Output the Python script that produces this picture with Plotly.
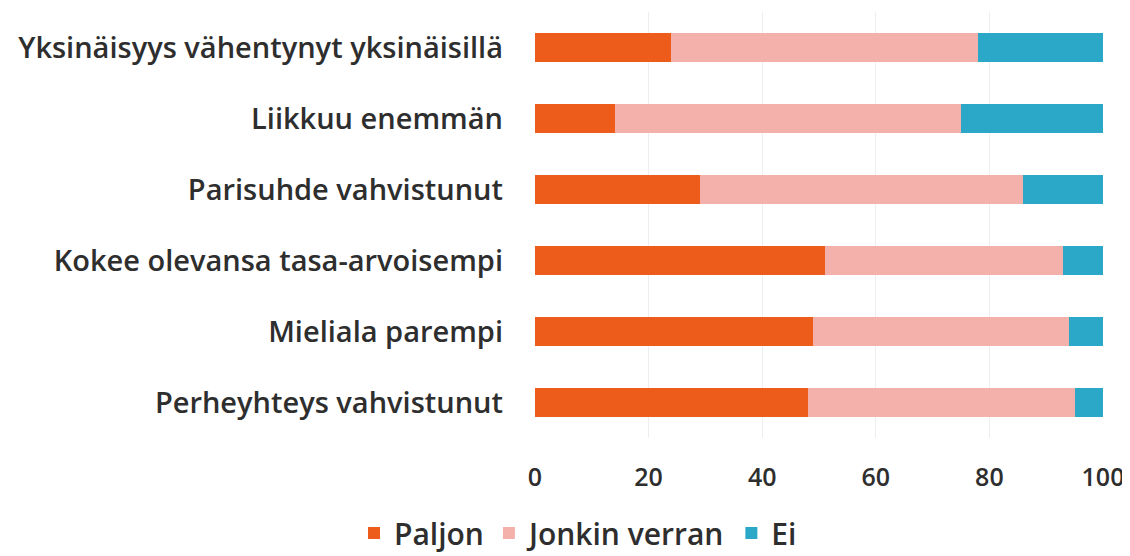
import plotly.graph_objects as go

categories = ["Yksinäisyys vähentynyt yksinäisillä", "Liikkuu enemmän", "Parisuhde vahvistunut",
              "Kokee olevansa tasa-arvoisempi", "Mieliala parempi", "Perheyhteys vahvistunut"]
paljon = [24, 14, 29, 51, 49, 48]
jonkin = [54, 61, 57, 42, 45, 47]
ei = [22, 25, 14, 7, 6, 5]
series_names = ["Paljon", "Jonkin verran", "Ei"]
colors = ["#EE5C1C", "#F4B1AB", "#2BA8C8"]

fig = go.Figure()
for name, vals, c in zip(series_names, [paljon, jonkin, ei], colors):
    fig.add_trace(go.Bar(y=categories, x=vals, name=name, orientation="h",
                         marker=dict(color=c, line=dict(width=0))))

FONT = "'Open Sans', Lato, sans-serif"
TXT = "#2e2e2e"
fig.update_layout(
    barmode="stack", bargap=0.59,
    width=1122, height=548,
    margin=dict(l=527, r=27, t=4, b=118, autoexpand=False),
    plot_bgcolor="white", paper_bgcolor="white",
    font=dict(family=FONT, size=28, color=TXT, weight=600),
    xaxis=dict(range=[0, 100], tickvals=[0, 20, 40, 60, 80, 100], showgrid=True,
               gridcolor="#eeeeee", gridwidth=1, zeroline=False, ticks="",
               automargin=False, ticklabelstandoff=22,
               tickfont=dict(size=25, color=TXT, weight=600)),
    yaxis=dict(categoryorder="array", categoryarray=categories[::-1], ticks="",
               automargin=False, ticklabelstandoff=31,
               tickfont=dict(size=29, color=TXT, weight=600)),
    legend=dict(orientation="h", xref="container", yref="container",
                x=0.508, xanchor="center", y=0.042, yanchor="middle",
                font=dict(size=30, weight=600), itemwidth=30,
                traceorder="normal"),
)
fig.write_html("out.html")
